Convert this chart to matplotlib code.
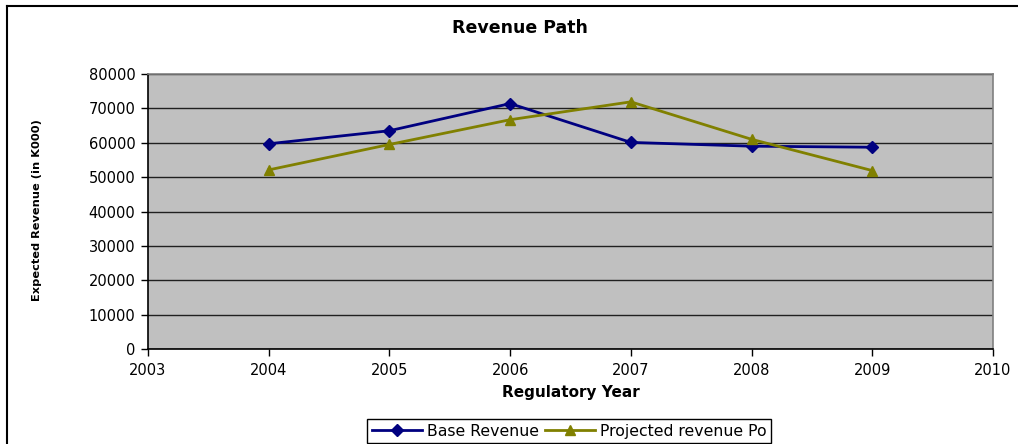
import matplotlib
matplotlib.use("Agg")
import matplotlib.pyplot as plt
from matplotlib.lines import Line2D

years = [2004, 2005, 2006, 2007, 2008, 2009]
base_revenue = [59700, 63500, 71400, 60100, 59000, 58700]
projected_revenue = [52100, 59500, 66700, 71900, 61000, 51900]
x_ticks = [2003, 2004, 2005, 2006, 2007, 2008, 2009, 2010]
y_ticks = [0, 10000, 20000, 30000, 40000, 50000, 60000, 70000, 80000]

plt.rcParams['font.family'] = ['DejaVu Sans']

fig = plt.figure(figsize=(10.18, 4.44), dpi=100)
ax = fig.add_axes([148/1018, 1-349/444, (993-148)/1018, (349-74)/444])
ax.set_facecolor('#C0C0C0')

ax.plot(years, base_revenue, color='#000080', lw=2, marker='D', ms=6,
        label='Base Revenue', zorder=3)
ax.plot(years, projected_revenue, color='#808000', lw=2, marker='^', ms=7.5,
        label='Projected revenue Po', zorder=3)

ax.set_xlim(2003, 2010)
ax.set_ylim(0, 80000)
ax.set_xticks(x_ticks)
ax.set_yticks(y_ticks)
ax.set_xticklabels([str(v) for v in x_ticks])
ax.set_yticklabels([str(v) for v in y_ticks])
ax.tick_params(axis='both', direction='out', length=5, width=1, labelsize=10.5, colors='black')
ax.tick_params(axis='y', pad=4)
ax.tick_params(axis='x', pad=5)

ax.grid(axis='y', color='#202020', lw=1)
ax.set_axisbelow(True)
for s in ['top', 'right']:
    ax.spines[s].set_color('#808080')
    ax.spines[s].set_linewidth(1.2)
for s in ['left', 'bottom']:
    ax.spines[s].set_color('black')
    ax.spines[s].set_linewidth(1.2)

fig.text(520/1018, 1-28/444, 'Revenue Path', ha='center', va='center',
         fontsize=12.5, fontweight='bold')
fig.text(571/1018, 1-392/444, 'Regulatory Year', ha='center', va='center',
         fontsize=11, fontweight='bold')
fig.text(37/1018, 1-210/444, 'Expected Revenue (in K000)', rotation=90,
         ha='center', va='center', fontsize=8.2, fontweight='bold')

leg = ax.legend(loc='upper center', bbox_to_anchor=(569/1018, 1-419/444),
                bbox_transform=fig.transFigure, ncol=2, fontsize=11.3,
                frameon=True, fancybox=False, edgecolor='black', framealpha=1,
                borderpad=0.3, handlelength=3.2, handletextpad=0.3, columnspacing=0.4,
                borderaxespad=0)
leg.get_frame().set_linewidth(1)

fig.add_artist(Line2D([7/1018, 1], [1-6/444, 1-6/444], color='black', lw=1.5,
                      transform=fig.transFigure))
fig.add_artist(Line2D([7/1018, 7/1018], [0, 1-6/444], color='black', lw=1.5,
                      transform=fig.transFigure))

fig.savefig('out.png', dpi=100)
